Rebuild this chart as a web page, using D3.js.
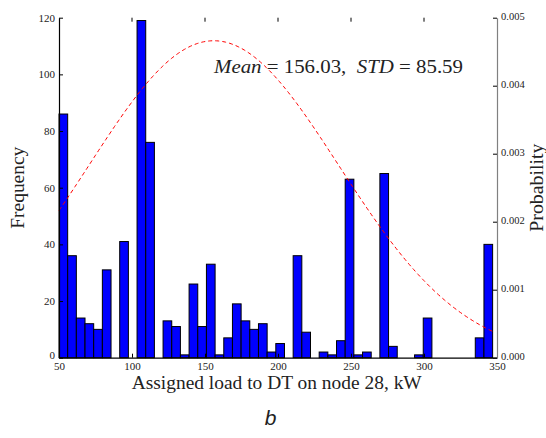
<!DOCTYPE html>
<html>
<head>
<meta charset="utf-8">
<script src="https://cdn.jsdelivr.net/npm/d3@7"></script>
<style>
  html, body { margin: 0; padding: 0; background: #fff; }
  svg { display: block; }
  text { font-family: "Liberation Serif", "Times New Roman", serif; fill: #222; }
</style>
</head>
<body>
<svg id="chart" width="546" height="438"></svg>
<script>
// ---- data ----
const binLow = 50;          // lowest load value (kW)
const binHigh = 347;        // highest load value (kW)
const binCount = 50;
const counts = [86, 36, 14, 12, 10, 31, 0, 41, 0, 119,
                76, 0, 13, 11, 1, 26, 11, 33, 1, 7,
                19, 13, 10, 12, 2, 5, 0, 36, 9, 0,
                2, 1, 6, 63, 1, 2, 0, 65, 4, 0,
                0, 1, 14, 0, 0, 0, 0, 0, 7, 40];
const fitMean = 156.03;
const fitStd = 85.59;
const xTicks = [50, 100, 150, 200, 250, 300, 350];
const yTicks = [0, 20, 40, 60, 80, 100, 120];
const pTicks = [0.000, 0.001, 0.002, 0.003, 0.004, 0.005];
const xTitle = "Assigned load to DT on node 28, kW";
const yTitle = "Frequency";
const pTitle = "Probability";
const panelLabel = "b";

// ---- layout ----
const L = 59, R = 497, T = 17.7, B = 357.7;
const svg = d3.select("#chart");

const x = d3.scaleLinear().domain([50, 350]).range([L, R]);
const y = d3.scaleLinear().domain([0, 120]).range([B, T]);
const yP = d3.scaleLinear().domain([0, 0.005]).range([B, T]);

const binW = (binHigh - binLow) / binCount;
const bins = counts.map((c, i) => ({ x0: binLow + i * binW, x1: binLow + (i + 1) * binW, c }));

// bars
svg.append("g").selectAll("rect")
  .data(bins.filter(d => d.c > 0))
  .join("rect")
  .attr("x", d => x(d.x0))
  .attr("y", d => y(d.c))
  .attr("width", d => x(d.x1) - x(d.x0))
  .attr("height", d => y(0) - y(d.c))
  .attr("fill", "#0000ff")
  .attr("stroke", "#000")
  .attr("stroke-width", 1);

// fitted normal pdf (from stated mean & std)
const pdf = v => Math.exp(-0.5 * Math.pow((v - fitMean) / fitStd, 2)) / (fitStd * Math.sqrt(2 * Math.PI));
const curveX = d3.range(binLow, binHigh + 0.001, 1);
svg.append("path")
  .datum(curveX)
  .attr("d", d3.line().x(v => x(v)).y(v => yP(pdf(v))))
  .attr("fill", "none")
  .attr("stroke", "#ff0000")
  .attr("stroke-width", 1)
  .attr("stroke-dasharray", "4,3");

// left axis
const gL = svg.append("g").attr("transform", `translate(${L},0)`)
  .call(d3.axisLeft(y).tickValues(yTicks).tickSize(-4).tickSizeOuter(0).tickPadding(4));
gL.select(".domain").attr("stroke", "#000").attr("stroke-width", 1.2);
gL.selectAll(".tick line").attr("stroke", "#000");
gL.selectAll(".tick text").style("font-family", "Liberation Serif").style("font-size", "11px").attr("fill", "#222");
gL.selectAll(".tick").filter(d => d === 0).select("text").attr("dy", "0.05em");

// bottom axis
const gB = svg.append("g").attr("transform", `translate(0,${B})`)
  .call(d3.axisBottom(x).tickValues(xTicks).tickSize(-4).tickSizeOuter(0).tickPadding(5));
gB.select(".domain").attr("stroke", "#000").attr("stroke-width", 1.2);
gB.selectAll(".tick line").attr("stroke", "#000");
gB.selectAll(".tick text").style("font-family", "Liberation Serif").style("font-size", "11px").attr("fill", "#222");

// top ticks (no spine)
svg.append("g").selectAll("line")
  .data(xTicks.filter(v => v > 50 && v < 350))
  .join("line")
  .attr("x1", d => x(d)).attr("x2", d => x(d))
  .attr("y1", T).attr("y2", T + 4)
  .attr("stroke", "#000");

// right axis
const gR = svg.append("g").attr("transform", `translate(${R},0)`)
  .call(d3.axisRight(yP).tickValues(pTicks).tickSize(-4).tickSizeOuter(0).tickPadding(4).tickFormat(d3.format(".3f")));
gR.select(".domain").attr("stroke", "#808080").attr("stroke-width", 1.2);
gR.selectAll(".tick line").attr("stroke", "#000");
gR.selectAll(".tick text").style("font-family", "Liberation Serif").style("font-size", "10.5px").attr("fill", "#222").attr("dy", "0.2em");

// axis titles
svg.append("text")
  .attr("x", 276.7).attr("y", 388.5)
  .attr("text-anchor", "middle")
  .attr("textLength", 290).attr("lengthAdjust", "spacingAndGlyphs")
  .style("font-size", "18px")
  .text(xTitle);

svg.append("text")
  .attr("transform", `translate(24,${(T + B) / 2}) rotate(-90)`)
  .attr("text-anchor", "middle")
  .attr("textLength", 82).attr("lengthAdjust", "spacingAndGlyphs")
  .style("font-size", "18px")
  .text(yTitle);

svg.append("text")
  .attr("transform", `translate(543,${(T + B) / 2}) rotate(-90)`)
  .attr("text-anchor", "middle")
  .attr("textLength", 88).attr("lengthAdjust", "spacingAndGlyphs")
  .style("font-size", "18px")
  .text(pTitle);

// annotation
const ann = svg.append("text")
  .attr("x", 214).attr("y", 73)
  .attr("textLength", 249).attr("lengthAdjust", "spacingAndGlyphs")
  .style("font-size", "19px");
ann.append("tspan").style("font-style", "italic").text("Mean");
ann.append("tspan").text(` = ${fitMean.toFixed(2)},\u2002`);
ann.append("tspan").style("font-style", "italic").text("STD");
ann.append("tspan").text(` = ${fitStd.toFixed(2)}`);

// panel label
svg.append("text")
  .attr("x", 270.5).attr("y", 425)
  .attr("text-anchor", "middle")
  .style("font-family", "Liberation Sans, Arial, sans-serif")
  .style("font-style", "italic")
  .style("font-size", "21px")
  .attr("fill", "#000")
  .text(panelLabel);
</script>
</body>
</html>
